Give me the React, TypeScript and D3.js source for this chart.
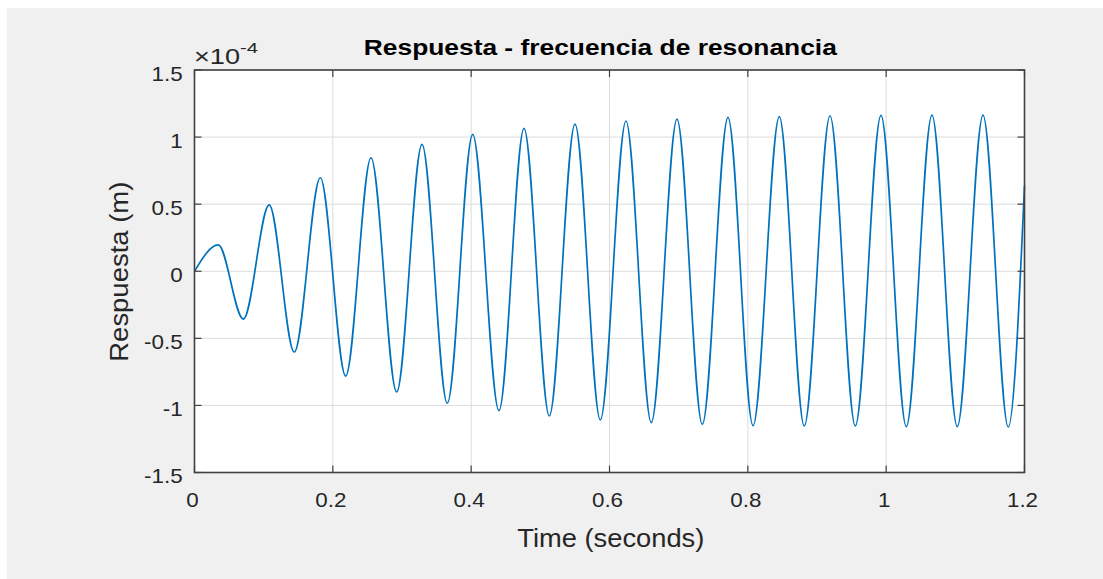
import React from "react";
import * as d3 from "d3";

// Extrema of the response (time in s, response in 1e-4 m)
const times = [
  0, 0.0344, 0.0706, 0.108, 0.1443, 0.1819, 0.2186, 0.2552, 0.2923, 0.3289,
  0.3655, 0.4022, 0.4402, 0.4764, 0.513, 0.5501, 0.5867, 0.6238, 0.6604,
  0.6976, 0.7342, 0.7713, 0.8075, 0.8455, 0.8816, 0.9188, 0.9554, 0.9925,
  1.0291, 1.0662, 1.1028, 1.14, 1.1765, 1.2,
];
const responses = [
  0, 0.196, -0.357, 0.494, -0.602, 0.697, -0.781, 0.846, -0.9, 0.946, -0.984,
  1.02, -1.039, 1.065, -1.079, 1.097, -1.108, 1.12, -1.128, 1.134, -1.141,
  1.147, -1.151, 1.152, -1.153, 1.159, -1.153, 1.162, -1.158, 1.164, -1.158,
  1.164, -1.161, 0.635,
];
const xTicks = [0, 0.2, 0.4, 0.6, 0.8, 1, 1.2];
const yTicks = [-1.5, -1, -0.5, 0, 0.5, 1, 1.5];
const xTickLabels = ["0", "0.2", "0.4", "0.6", "0.8", "1", "1.2"];
const yTickLabels = ["-1.5", "-1", "-0.5", "0", "0.5", "1", "1.5"];
const titleText = "Respuesta - frecuencia de resonancia";
const xLabelText = "Time (seconds)";
const yLabelText = "Respuesta (m)";

const W = 1103;
const H = 579;
const left = 194.5;
const right = 1024.5;
const top = 70;
const bottom = 472.5;
const FONT = "'Liberation Sans', Arial, Helvetica, sans-serif";
const TXT = "#262626";

export default function App() {
  const x = d3.scaleLinear().domain([0, 1.2]).range([left, right]);
  const y = d3.scaleLinear().domain([-1.5, 1.5]).range([bottom, top]);
  const pts = times.map((t, i) => [t, responses[i]] as [number, number]);
  const line = d3
    .line<[number, number]>()
    .x((d) => x(d[0]))
    .y((d) => y(d[1]))
    .curve(d3.curveMonotoneX);
  const tickLen = 7;

  return (
    <svg
      width={W}
      height={H}
      style={{ position: "absolute", left: 0, top: 0, background: "#fff" }}
    >
      <rect x={7} y={8} width={W - 7} height={H - 8} fill="#f0f0f0" />
      <rect x={left} y={top} width={right - left} height={bottom - top} fill="#fff" />
      {/* grid */}
      <g stroke="#dcdcdc" strokeWidth={1}>
        {xTicks.map((t) => (
          <line key={"gx" + t} x1={x(t)} x2={x(t)} y1={top} y2={bottom} />
        ))}
        {yTicks.map((t) => (
          <line key={"gy" + t} x1={left} x2={right} y1={y(t)} y2={y(t)} />
        ))}
      </g>
      <defs>
        <clipPath id="plotclip">
          <rect x={left} y={top} width={right - left + 2} height={bottom - top} />
        </clipPath>
      </defs>
      <path
        d={line(pts) || ""}
        fill="none"
        stroke="#0072BD"
        strokeWidth={1.7}
        clipPath="url(#plotclip)"
      />
      {/* ticks */}
      <g stroke="#404040" strokeWidth={1.2}>
        {xTicks.map((t) => (
          <g key={"tx" + t}>
            <line x1={x(t)} x2={x(t)} y1={bottom} y2={bottom - tickLen} />
            <line x1={x(t)} x2={x(t)} y1={top} y2={top + tickLen} />
          </g>
        ))}
        {yTicks.map((t) => (
          <g key={"ty" + t}>
            <line x1={left} x2={left + tickLen} y1={y(t)} y2={y(t)} />
            <line x1={right} x2={right - tickLen} y1={y(t)} y2={y(t)} />
          </g>
        ))}
      </g>
      <rect
        x={left}
        y={top}
        width={right - left}
        height={bottom - top}
        fill="none"
        stroke="#404040"
        strokeWidth={1.6}
      />
      {/* tick labels */}
      <g fontFamily={FONT} fontSize={20} fill={TXT}>
        {xTicks.map((t, i) => (
          <g key={"lx" + t} transform={`translate(${x(t) - 2},${507}) scale(1.12,1)`}>
            <text textAnchor="middle">{xTickLabels[i]}</text>
          </g>
        ))}
        {yTicks.map((t, i) => (
          <g key={"ly" + t} transform={`translate(${182.7},${y(t) + 10.5}) scale(1.12,1)`}>
            <text textAnchor="end">{yTickLabels[i]}</text>
          </g>
        ))}
      </g>
      {/* exponent */}
      <g fontFamily={FONT} fill={TXT}>
        <text x={194} y={63.5} fontSize={22} textLength={46} lengthAdjust="spacingAndGlyphs">
          ×10
        </text>
        <text x={240} y={53} fontSize={15} textLength={18} lengthAdjust="spacingAndGlyphs">
          -4
        </text>
      </g>
      {/* title */}
      <text
        x={600.3}
        y={55}
        textAnchor="middle"
        fontFamily={FONT}
        fontWeight="bold"
        fontSize={22.5}
        fill="#000"
        textLength={473}
        lengthAdjust="spacingAndGlyphs"
      >
        {titleText}
      </text>
      {/* axis labels */}
      <text
        x={610.8}
        y={547}
        textAnchor="middle"
        fontFamily={FONT}
        fontSize={25}
        fill={TXT}
        textLength={187}
        lengthAdjust="spacingAndGlyphs"
      >
        {xLabelText}
      </text>
      <text
        transform={`translate(127.5,271.7) rotate(-90)`}
        textAnchor="middle"
        fontFamily={FONT}
        fontSize={25}
        fill={TXT}
        textLength={180}
        lengthAdjust="spacingAndGlyphs"
      >
        {yLabelText}
      </text>
    </svg>
  );
}
